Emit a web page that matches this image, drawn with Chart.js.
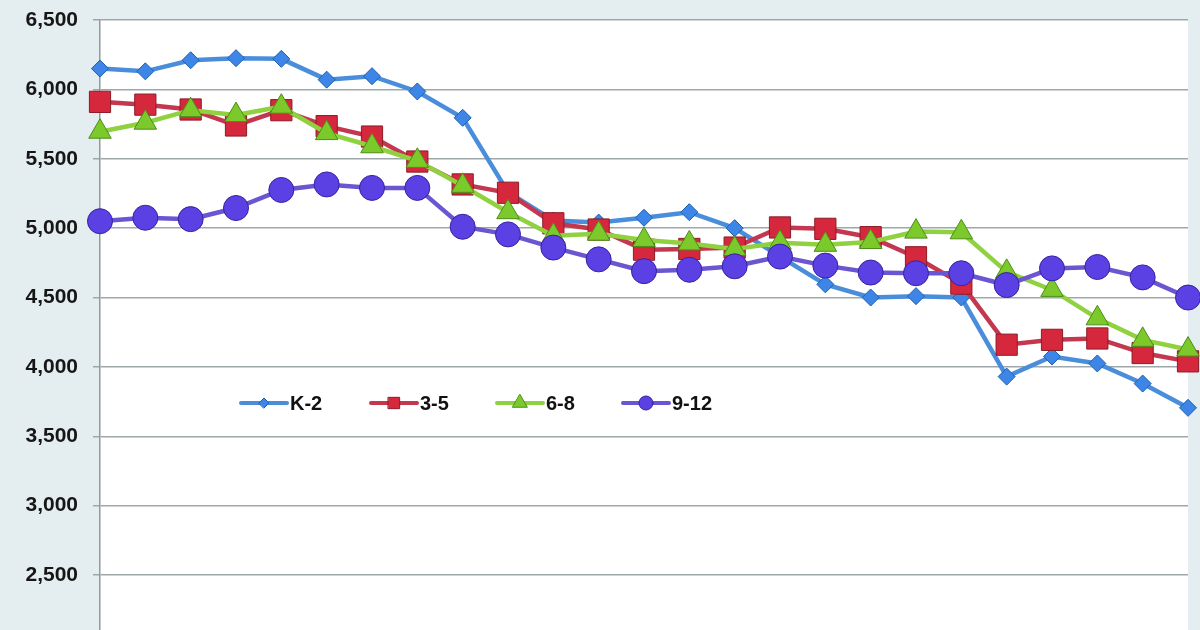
<!DOCTYPE html>
<html>
<head>
<meta charset="utf-8">
<script src="https://cdn.jsdelivr.net/npm/chart.js@4/dist/chart.umd.min.js"></script>
<style>
  html, body { margin: 0; padding: 0; overflow: hidden; background: #e4edf0; }
  #chart { display: block; }
</style>
</head>
<body>
<canvas id="chart" width="1200" height="630"></canvas>
<script>
// valores (las etiquetas del eje x quedan fuera del recorte)
const categories = ['1', '2', '3', '4', '5', '6', '7', '8', '9', '10', '11', '12', '13',
  '14', '15', '16', '17', '18', '19', '20', '21', '22', '23', '24', '25'];
const seriesNames = ['K-2', '3-5', '6-8', '9-12'];
const k2 = [6150, 6130, 6210, 6225, 6220, 6070, 6095, 5985, 5795, 5260, 5055, 5040, 5075,
  5115, 5000, 4795, 4595, 4500, 4510, 4500, 3930, 4075, 4025, 3880, 3705];
const g35 = [5910, 5890, 5855, 5740, 5850, 5735, 5660, 5480, 5315, 5255, 5035, 4990, 4845,
  4850, 4860, 5005, 4995, 4935, 4790, 4600, 4160, 4195, 4205, 4100, 4040];
const g68 = [5695, 5760, 5850, 5815, 5875, 5685, 5590, 5485, 5305, 5115, 4945, 4960, 4915,
  4890, 4850, 4895, 4880, 4900, 4975, 4970, 4685, 4555, 4350, 4195, 4125];
const g912 = [5050, 5075, 5065, 5145, 5275, 5315, 5290, 5290, 5010, 4955, 4860, 4775, 4690,
  4700, 4725, 4795, 4730, 4680, 4675, 4675, 4590, 4710, 4720, 4645, 4500];
const yTicks = [2500, 3000, 3500, 4000, 4500, 5000, 5500, 6000, 6500];
const yMin = 2104; // el borde inferior del recorte
const yMax = 6500;

const FONT = "'Liberation Sans', Arial, sans-serif";

// fondo gris azulado y área del gráfico blanca
const fondo = {
  id: 'fondo',
  beforeDraw(chart) {
    const { ctx, chartArea: a } = chart;
    ctx.save();
    ctx.fillStyle = '#e4edf0';
    ctx.fillRect(0, 0, chart.width, chart.height);
    ctx.fillStyle = '#ffffff';
    ctx.fillRect(a.left, a.top, a.right - a.left, a.bottom - a.top);
    ctx.restore();
  }
};

// leyenda dentro del área, línea con marcador en medio
const leyenda = {
  id: 'leyenda',
  afterDraw(chart) {
    const ctx = chart.ctx;
    const xs = [241, 371, 497, 623];
    const radios = [5, 8, 8.5, 7];
    const y = 403;
    ctx.save();
    chart.data.datasets.forEach((ds, i) => {
      const x0 = xs[i], x1 = x0 + 46;
      ctx.strokeStyle = ds.borderColor;
      ctx.lineWidth = 4;
      ctx.lineCap = 'round';
      ctx.beginPath();
      ctx.moveTo(x0, y);
      ctx.lineTo(x1, y);
      ctx.stroke();
      ctx.fillStyle = ds.pointBackgroundColor;
      ctx.strokeStyle = ds.pointBorderColor;
      ctx.lineWidth = 1;
      Chart.helpers.drawPoint(ctx, { pointStyle: ds.pointStyle, radius: radios[i], rotation: 0, borderWidth: 1 }, (x0 + x1) / 2, y);
      ctx.fillStyle = '#111111';
      ctx.font = 'bold 20px ' + FONT;
      ctx.textAlign = 'left';
      ctx.textBaseline = 'middle';
      ctx.fillText(ds.label, x1 + 3, y + 1);
    });
    ctx.restore();
  }
};

const ctxLineas = document.getElementById('chart');
new Chart(ctxLineas, {
  type: 'line',
  data: {
    labels: categories,
    datasets: [
      {
        label: seriesNames[0], data: k2, order: 4,
        borderColor: '#4a8edb', borderWidth: 4.5,
        pointStyle: 'rectRot', pointRadius: 8.5,
        pointBackgroundColor: '#3d86e8', pointBorderColor: '#1f5fb0', pointBorderWidth: 1
      },
      {
        label: seriesNames[1], data: g35, order: 3,
        borderColor: '#c3374f', borderWidth: 4.5,
        pointStyle: 'rect', pointRadius: 15,
        pointBackgroundColor: '#d6283d', pointBorderColor: '#8c1b26', pointBorderWidth: 1
      },
      {
        label: seriesNames[2], data: g68, order: 2,
        borderColor: '#8fd13f', borderWidth: 4.5,
        pointStyle: 'triangle', pointRadius: 13,
        pointBackgroundColor: '#7cc92b', pointBorderColor: '#4d8d19', pointBorderWidth: 1
      },
      {
        label: seriesNames[3], data: g912, order: 1,
        borderColor: '#6b55d0', borderWidth: 4.5,
        pointStyle: 'circle', pointRadius: 12.5,
        pointBackgroundColor: '#5b40e4', pointBorderColor: '#3523a0', pointBorderWidth: 1
      }
    ].map(ds => Object.assign(ds, { tension: 0, clip: false, pointHoverRadius: ds.pointRadius }))
  },
  options: {
    responsive: false,
    animation: false,
    layout: { autoPadding: false, padding: { top: 20, right: 12, bottom: 0, left: 0 } },
    plugins: { legend: { display: false }, tooltip: { enabled: false } },
    scales: {
      x: { display: false, offset: false },
      y: {
        min: yMin,
        max: yMax,
        afterFit(scale) {
          scale.width = 100;
          scale.paddingTop = 0;
          scale.paddingBottom = 0;
        },
        afterBuildTicks(scale) { scale.ticks = yTicks.map(v => ({ value: v })); },
        grid: { color: '#9ea7aa', lineWidth: 1.5, tickLength: 7 },
        border: { display: true, color: '#8f9a9e', width: 1.5 },
        ticks: {
          padding: 15,
          color: '#161616',
          font: { family: FONT, size: 21, weight: 'bold' },
          callback: v => v.toLocaleString('en-US')
        }
      }
    }
  },
  plugins: [fondo, leyenda]
});
</script>
</body>
</html>
